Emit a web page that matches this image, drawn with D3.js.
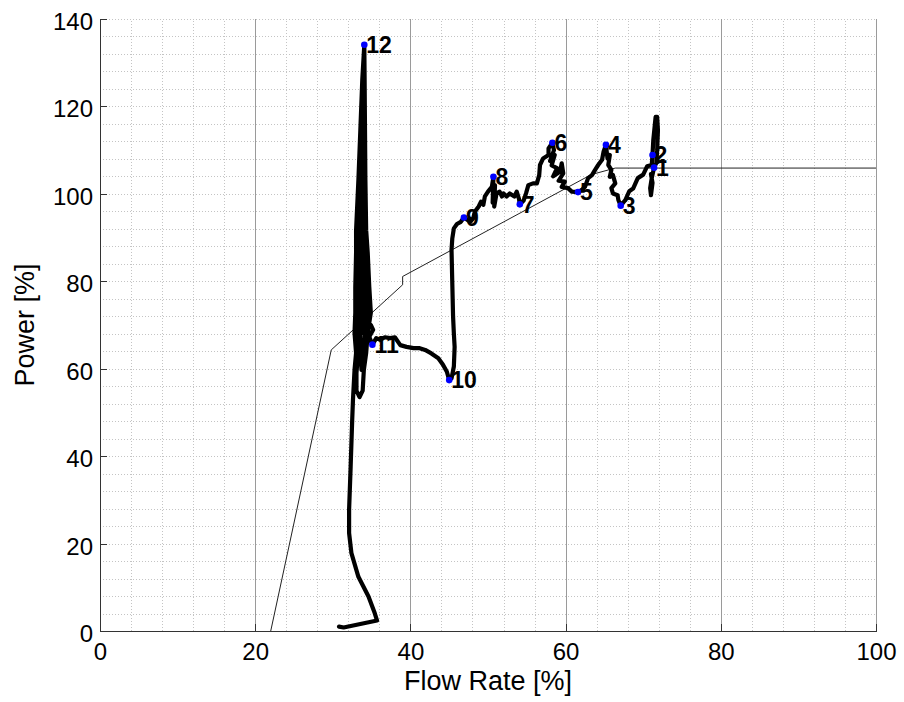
<!DOCTYPE html>
<meta charset="utf-8">
<style>
body { margin: 0; background: #fff; }
text { font-family: "Liberation Sans", Arial, sans-serif; }
.minor { stroke: #c4c4c4; stroke-width: 1; stroke-dasharray: 1,2; shape-rendering: crispEdges; }
.major { stroke: #9a9a9a; stroke-width: 1; shape-rendering: crispEdges; }
.axis path, .axis line { stroke: #333; shape-rendering: crispEdges; }
.axis text { font-size: 24px; fill: #000; }
.ref { fill: none; stroke: #222; stroke-width: 1; }
.traj { fill: none; stroke: #000; stroke-width: 4.2px; stroke-linejoin: round; stroke-linecap: round; }
.mark { fill: #0000ff; }
.lbl { font-size: 23px; font-weight: bold; fill: #000; }
</style>
<body>
<script src="https://d3js.org/d3.v7.min.js"></script>
<script>

var xTicks = [0, 20, 40, 60, 80, 100];
var yTicks = [0, 20, 40, 60, 80, 100, 120, 140];

// thin reference curve (flow %, power %)
var refCurve = [[22.0, 0], [29.8, 64.3], [39.0, 79.2], [39.0, 81.1], [63.3, 104.4], [66.4, 105.9], [100, 105.9]];

// measured trajectory, split in pieces
var stemPts = [[30.8, 1.0], [31.4, 0.8], [35.7, 2.4], [35.4, 4.1], [34.6, 7.9], [33.3, 12.4], [32.4, 17.8],
  [32.1, 22.4], [32.1, 27.7], [32.3, 37.6], [32.5, 48.3], [32.6, 52.9], [32.8, 59.7]];

var spikePts = [
  [33.0, 63.6], [32.8, 68.2], [32.9, 72.8], [32.9, 78.7], [33.0, 86.5], [33.0, 91.7], [33.3, 103.2], [33.55, 114.6], [33.8, 126.1], [34.06, 134.1],
  [34.1, 126.1], [34.15, 114.6], [34.2, 103.2], [34.3, 91.7], [34.5, 86.5], [34.7, 78.7], [34.9, 72.8], [34.5, 68.2], [34.3, 63.6], [34.0, 59.7],
  [33.85, 55.0], [33.45, 53.5], [33.05, 55.0], [33.05, 59.0],
  [33.25, 63.6], [33.15, 68.2], [33.25, 72.8], [33.25, 78.7], [33.3, 86.5], [33.25, 91.7], [33.45, 103.2], [33.65, 114.6], [33.9, 126.1], [34.06, 133.5],
  [34.0, 126.1], [33.95, 114.6], [33.95, 103.2], [34.0, 91.7], [34.1, 86.5], [34.2, 78.7], [34.35, 72.8], [34.1, 68.2], [33.95, 63.6], [33.7, 59.7],
  [33.55, 63.6], [33.5, 68.2], [33.6, 72.8], [33.6, 78.7], [33.6, 86.5], [33.5, 91.7], [33.65, 103.2], [33.8, 114.6], [34.0, 130.0],
  [34.05, 114.6], [34.1, 103.2], [34.15, 91.7], [34.3, 86.5], [34.45, 78.7], [34.65, 72.8], [34.3, 68.2],
  [33.8, 68.2], [33.9, 72.8], [33.85, 78.7], [33.8, 86.5], [34.5, 80.0], [34.7, 72.0], [34.6, 69.6]];

var lowPts = [[34.9, 70.0], [35.2, 68.9], [34.7, 67.3], [35.1, 65.5], [35.6, 67.0], [36.1, 66.6], [36.7, 67.2],
  [37.4, 67.0], [38.0, 67.2], [38.7, 65.4], [39.5, 65.0], [40.4, 64.7], [41.2, 64.7], [41.9, 64.3], [42.7, 63.5],
  [43.6, 62.4], [44.2, 60.9], [44.7, 59.3], [45.0, 57.4],
  [45.3, 57.8], [45.6, 60.5], [45.7, 65.0], [45.6, 68.1], [45.5, 71.9], [45.4, 79.5], [45.3, 87.2], [45.4, 89.8],
  [45.6, 92.1], [46.0, 93.1], [46.5, 93.6], [46.9, 94.6]];

var upperPts = [[47.7, 93.6], [48.1, 94.4], [48.3, 95.9], [48.8, 97.1], [49.1, 98.2], [49.4, 97.5], [49.6, 99.4],
  [50.0, 100.5], [50.5, 101.6], [50.7, 103.9], [50.6, 98.0], [50.9, 102.0], [50.8, 97.1], [51.1, 100.1], [51.5, 100.5],
  [51.8, 99.4], [52.0, 100.1], [52.4, 99.4], [52.8, 100.1], [53.4, 99.4], [53.7, 100.5], [54.0, 98.8], [54.1, 97.6],
  [54.6, 98.5], [54.9, 100.1], [55.2, 102.0], [55.8, 102.4], [56.3, 102.4], [56.6, 104.3], [56.7, 106.6], [57.1, 108.1],
  [57.8, 108.9], [57.8, 110.4], [58.3, 111.7],
  [58.5, 110.0], [58.0, 107.5], [58.6, 108.9], [58.2, 106.5], [58.9, 105.9], [58.4, 104.0], [59.3, 105.1], [59.5, 107.0],
  [59.7, 104.7], [59.1, 103.0], [59.9, 102.8], [59.5, 101.6], [60.3, 101.3], [60.8, 100.5], [61.6, 100.4],
  [62.1, 100.9], [62.5, 101.6], [62.9, 103.6], [63.4, 104.3], [63.8, 105.5], [64.2, 106.6], [64.7, 107.8], [64.9, 109.7], [65.2, 111.2],
  [65.4, 108.1], [65.7, 108.9], [65.5, 106.6], [65.9, 105.5], [65.7, 103.9], [66.1, 104.3], [66.4, 102.4], [65.9, 101.3],
  [66.1, 100.1], [66.7, 99.7], [66.8, 98.6], [67.1, 97.3],
  [67.7, 98.6], [68.2, 100.6], [68.7, 101.2], [69.3, 103.6], [70.0, 104.4], [70.5, 106.3], [71.1, 106.6], [71.2, 108.9],
  [71.3, 112.3], [71.5, 115.8], [71.6, 117.6], [71.8, 117.6], [71.9, 114.6], [71.8, 110.0], [71.7, 107.1], [71.4, 106.0],
  [71.1, 103.6], [70.9, 101.3], [71.0, 99.7], [71.2, 102.5], [71.0, 104.5]];

// numbered markers
var markLabels = ["1", "2", "3", "4", "5", "6", "7", "8", "9", "10", "11", "12"];
var markFlow = [71.4, 71.2, 67.1, 65.2, 61.6, 58.3, 54.1, 50.7, 46.9, 45.0, 35.1, 34.06];
var markPower = [106.0, 108.9, 97.3, 111.2, 100.4, 111.7, 97.6, 103.9, 94.6, 57.4, 65.5, 134.1];

var width = 904, height = 702;
var x = d3.scaleLinear().domain([0, 100]).range([100, 876]);
var y = d3.scaleLinear().domain([0, 140]).range([631, 19]);

var svg = d3.select("body").append("svg")
    .attr("width", width)
    .attr("height", height);

svg.append("rect").attr("width", width).attr("height", height).attr("fill", "#fff");

// minor dotted grid
svg.selectAll(".minorx")
    .data(d3.range(0, 100, 4))
  .enter().append("line")
    .attr("class", "minor")
    .attr("x1", function(d) { return Math.round(x(d)) + 0.5; })
    .attr("x2", function(d) { return Math.round(x(d)) + 0.5; })
    .attr("y1", y(0)).attr("y2", y(140));

svg.selectAll(".minory")
    .data(d3.range(0, 141, 4))
  .enter().append("line")
    .attr("class", "minor")
    .attr("y1", function(d) { return Math.round(y(d)) + 0.5; })
    .attr("y2", function(d) { return Math.round(y(d)) + 0.5; })
    .attr("x1", x(0)).attr("x2", x(100));

// solid vertical grid at major x ticks
svg.selectAll(".majorx")
    .data(xTicks.slice(1))
  .enter().append("line")
    .attr("class", "major")
    .attr("x1", function(d) { return Math.round(x(d)) + 0.5; })
    .attr("x2", function(d) { return Math.round(x(d)) + 0.5; })
    .attr("y1", y(0)).attr("y2", y(140));

// axes
svg.append("g")
    .attr("class", "axis")
    .attr("transform", "translate(0," + y(0) + ")")
    .call(d3.axisBottom(x).tickValues(xTicks).tickSize(-7).tickSizeOuter(0).tickPadding(12))
    .selectAll("text").attr("dy", "0.71em");

svg.append("g")
    .attr("class", "axis")
    .attr("transform", "translate(" + x(0) + ",0)")
    .call(d3.axisLeft(y).tickValues(yTicks).tickSize(-7).tickSizeOuter(0).tickPadding(7))
    .selectAll("text").attr("dy", "0.44em");

// reference curve
var line = d3.line()
    .x(function(d) { return x(d[0]); })
    .y(function(d) { return y(d[1]); });

svg.append("path")
    .datum(refCurve)
    .attr("class", "ref")
    .attr("d", line);

// trajectory
svg.append("path")
    .datum(stemPts.concat(spikePts, lowPts, upperPts))
    .attr("class", "traj")
    .attr("d", line);

// markers and numbers
svg.selectAll(".mark")
    .data(markLabels)
  .enter().append("circle")
    .attr("class", "mark")
    .attr("cx", function(d, i) { return x(markFlow[i]); })
    .attr("cy", function(d, i) { return y(markPower[i]); })
    .attr("r", 3.3);

svg.selectAll(".lbl")
    .data(markLabels)
  .enter().append("text")
    .attr("class", "lbl")
    .attr("x", function(d, i) { return x(markFlow[i]) + 2; })
    .attr("y", function(d, i) { return y(markPower[i]); })
    .attr("dy", "0.36em")
    .text(function(d) { return d; });

// axis titles
svg.append("text")
    .attr("x", (x(0) + x(100)) / 2)
    .attr("y", 690)
    .attr("text-anchor", "middle")
    .style("font-size", "27px")
    .text("Flow Rate [%]");

svg.append("text")
    .attr("transform", "translate(34," + (y(0) + y(140)) / 2 + ") rotate(-90)")
    .attr("text-anchor", "middle")
    .style("font-size", "27px")
    .text("Power [%]");

</script>
